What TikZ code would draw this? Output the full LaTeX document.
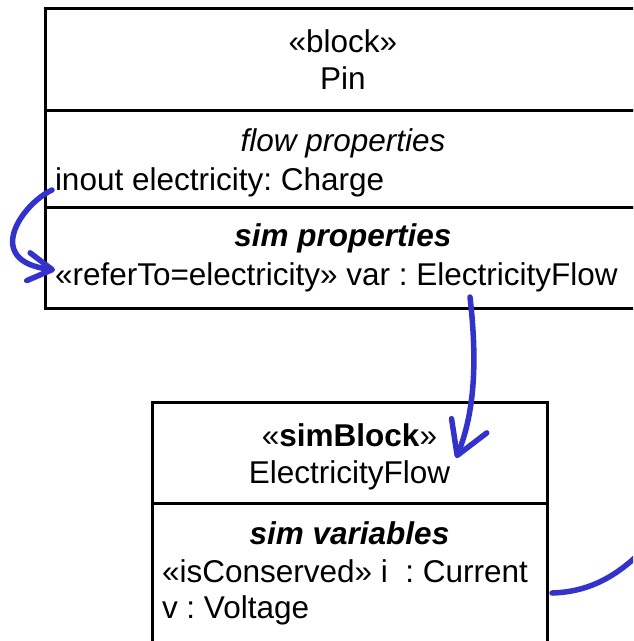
\documentclass[tikz,border=0pt]{standalone}
\usepackage{fontspec}
\setmainfont{Liberation Sans}
\usetikzlibrary{arrows.meta}
\definecolor{flowblue}{RGB}{51,51,204}
\frenchspacing
\begin{document}
\begin{tikzpicture}[x=1pt,y=-1pt,
  compart/.style={draw=black,line width=3pt,inner sep=0pt,outer sep=0pt,anchor=north west},
  lbl/.style={inner sep=0pt,outer sep=0pt,font=\fontsize{31.5pt}{37pt}\selectfont},
  link/.style={draw=flowblue,line width=5.5pt,line cap=round},
  tipsmall/.style={-{Straight Barb[length=24pt,width=28pt,round]}},
  tipbig/.style={-{Straight Barb[length=32pt,width=38pt,round]}}
]
\useasboundingbox (0,0) rectangle (633,641);
\clip (0,0) rectangle (633,641);
\fill[white] (0,0) rectangle (633,641);

% Pin block
\node[compart,minimum width=595pt,minimum height=102pt] (pinHead) at (45.5,8) {};
\node[compart,minimum width=595pt,minimum height=97.5pt] (pinFlow) at (45.5,110) {};
\node[compart,minimum width=595pt,minimum height=100.5pt] (pinSim) at (45.5,207.5) {};

\node[lbl,anchor=base] (pinStereo) at (343,52) {«block»};
\node[lbl,anchor=base] (pinName) at (343,89) {Pin};
\node[lbl,anchor=base] (flowTitle) at (343,151) {\itshape flow properties};
\node[lbl,anchor=base west] (inout) at (55,190) {inout electricity: Charge};
\node[lbl,anchor=base] (simTitle) at (343,246) {\bfseries\itshape sim properties};
\node[lbl,anchor=base west] (refer) at (55,285) {«referTo=electricity» var : ElectricityFlow};

% ElectricityFlow simBlock
\node[compart,minimum width=395pt,minimum height=101pt] (simHead) at (152,402) {};
\node[compart,minimum width=395pt,minimum height=139pt] (simVars) at (152,503) {};

\node[lbl,anchor=base] (simStereo) at (349.5,446) {«\textbf{simBlock}»};
\node[lbl,anchor=base] (eflow) at (349.5,483) {ElectricityFlow};
\node[lbl,anchor=base] (varTitle) at (349.5,544) {\bfseries\itshape sim variables};
\node[lbl,anchor=base west] (isc) at (162,582) {«isConserved» i~ : Current};
\node[lbl,anchor=base west] (volt) at (162,618) {v : Voltage};

% connectors
\coordinate (offpage) at (640,553);
\draw[link,tipsmall] ([xshift=-3pt]inout.base west)
  .. controls +(-30,14) and +(-73,-9) .. ([yshift=15pt]refer.base west);
\draw[link,tipbig] ([xshift=127pt,yshift=11pt]pinSim.south)
  .. controls +(6,53) and +(21,-52) .. ([xshift=6pt,yshift=25pt]eflow.base east);
\draw[link] ([xshift=5pt,yshift=-20.5pt]simVars.east)
  .. controls +(33,-1) and +(-28,27) .. (offpage);
\end{tikzpicture}
\end{document}
